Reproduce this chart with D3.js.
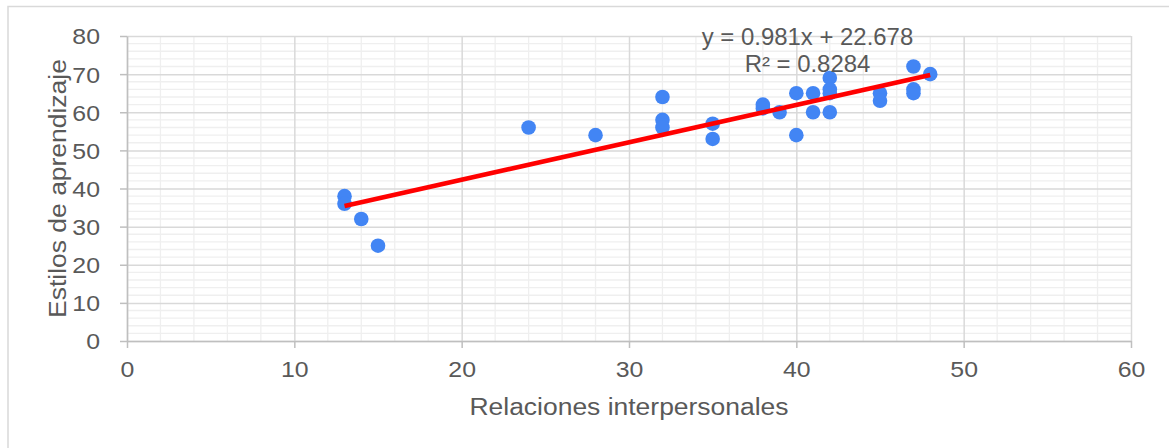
<!DOCTYPE html>
<html>
<head>
<meta charset="utf-8">
<script src="https://cdn.jsdelivr.net/npm/d3@7"></script>
<style>
  html, body { margin: 0; padding: 0; background: #fff; }
  svg { display: block; font-family: "Liberation Sans", Arial, sans-serif; }
</style>
</head>
<body>
<svg id="chart" width="1169" height="448"></svg>
<script>
// ---- data ----
const xValues = [13, 13, 14, 15, 24, 28, 32, 32, 32, 35, 35, 38, 38, 39, 40, 40, 41, 41, 42, 42, 42, 42, 45, 45, 47, 47, 47, 48];
const yValues = [38, 36, 32, 25, 56, 54, 64, 58, 56, 57, 53, 62, 61, 60, 65, 54, 65, 60, 69, 66, 65, 60, 65, 63, 72, 66, 65, 70];
const trendSlope = 0.981;
const trendIntercept = 22.678;
const equationLabels = ["y = 0.981x + 22.678", "R² = 0.8284"];
const xTicks = [0, 10, 20, 30, 40, 50, 60];
const yTicks = [0, 10, 20, 30, 40, 50, 60, 70, 80];
const xTitle = "Relaciones interpersonales";
const yTitle = "Estilos de aprendizaje";

// ---- layout ----
const svg = d3.select("#chart");
const plot = { left: 127, right: 1131, top: 36, bottom: 341 };
const textColor = "#595959";

const x = d3.scaleLinear().domain([0, 60]).range([plot.left, plot.right]);
const y = d3.scaleLinear().domain([0, 80]).range([plot.bottom, plot.top]);

function stretch(sel, k) {
  sel.each(function () {
    const w = this.getComputedTextLength();
    this.setAttribute("textLength", w * k);
    this.setAttribute("lengthAdjust", "spacingAndGlyphs");
  });
}

// outer border
svg.append("rect")
  .attr("x", 8).attr("y", 6.5)
  .attr("width", 1200).attr("height", 500)
  .attr("fill", "#fff")
  .attr("stroke", "#d9d9d9").attr("stroke-width", 1.5);

// minor gridlines
const xMinor = d3.range(0, 61, 2).filter(v => v % 10 !== 0);
const yMinor = d3.range(0, 81, 2).filter(v => v % 10 !== 0);
const grid = svg.append("g");
grid.selectAll("line.xm").data(xMinor).join("line")
  .attr("x1", d => x(d)).attr("x2", d => x(d))
  .attr("y1", plot.top).attr("y2", plot.bottom)
  .attr("stroke", "#efefef").attr("stroke-width", 1.3);
grid.selectAll("line.ym").data(yMinor).join("line")
  .attr("x1", plot.left).attr("x2", plot.right)
  .attr("y1", d => y(d)).attr("y2", d => y(d))
  .attr("stroke", "#efefef").attr("stroke-width", 1.3);

// major gridlines via axes
svg.append("g")
  .attr("transform", `translate(0,${plot.bottom})`)
  .call(d3.axisBottom(x).tickValues(xTicks).tickSize(-(plot.bottom - plot.top)).tickFormat(""))
  .call(g => g.select(".domain").remove())
  .call(g => g.selectAll("line").attr("stroke", "#d9d9d9").attr("stroke-width", 1.5));
svg.append("g")
  .attr("transform", `translate(${plot.left},0)`)
  .call(d3.axisLeft(y).tickValues(yTicks).tickSize(-(plot.right - plot.left)).tickFormat(""))
  .call(g => g.select(".domain").remove())
  .call(g => g.selectAll("line").attr("stroke", "#d9d9d9").attr("stroke-width", 1.5));

// axes with ticks and labels
const xAxis = svg.append("g")
  .attr("transform", `translate(0,${plot.bottom})`)
  .call(d3.axisBottom(x).tickValues(xTicks).tickSize(7).tickSizeOuter(0).tickPadding(13));
xAxis.select(".domain").attr("stroke", "#bfbfbf").attr("stroke-width", 1.5);
xAxis.selectAll(".tick line").attr("stroke", "#bfbfbf").attr("stroke-width", 1.5);
xAxis.selectAll(".tick text")
  .attr("fill", textColor).attr("font-size", 22)
  .attr("font-family", "Liberation Sans, Arial, sans-serif")
  .attr("dy", "0.71em");
stretch(xAxis.selectAll(".tick text"), 1.13);

const yAxis = svg.append("g")
  .attr("transform", `translate(${plot.left},0)`)
  .call(d3.axisLeft(y).tickValues(yTicks).tickSize(7).tickSizeOuter(0).tickPadding(20));
yAxis.select(".domain").attr("stroke", "#bfbfbf").attr("stroke-width", 1.5);
yAxis.selectAll(".tick line").attr("stroke", "#bfbfbf").attr("stroke-width", 1.5);
yAxis.selectAll(".tick text")
  .attr("fill", textColor).attr("font-size", 22)
  .attr("font-family", "Liberation Sans, Arial, sans-serif")
  .attr("dy", "0.36em");
stretch(yAxis.selectAll(".tick text"), 1.13);

// points
svg.append("g").selectAll("circle")
  .data(xValues.map((v, i) => [v, yValues[i]]))
  .join("circle")
  .attr("cx", d => x(d[0])).attr("cy", d => y(d[1]))
  .attr("r", 7.3)
  .attr("fill", "#4285f4");

// trendline
const xMin = d3.min(xValues), xMax = d3.max(xValues);
svg.append("line")
  .attr("x1", x(xMin)).attr("y1", y(trendSlope * xMin + trendIntercept))
  .attr("x2", x(xMax)).attr("y2", y(trendSlope * xMax + trendIntercept))
  .attr("stroke", "#ff0000").attr("stroke-width", 4.6);

// equation
const eq = svg.append("g").attr("fill", textColor).attr("font-size", 23).attr("text-anchor", "middle");
eq.selectAll("text").data(equationLabels).join("text")
  .attr("x", 807.5).attr("y", (d, i) => 45 + i * 26.7)
  .text(d => d);
stretch(eq.selectAll("text"), 1.04);

// axis titles
const xt = svg.append("text")
  .attr("x", (plot.left + plot.right) / 2).attr("y", 415)
  .attr("text-anchor", "middle").attr("fill", textColor).attr("font-size", 23)
  .text(xTitle);
stretch(xt, 1.15);

const yt = svg.append("text")
  .attr("transform", `translate(66,${(plot.top + plot.bottom) / 2}) rotate(-90)`)
  .attr("text-anchor", "middle").attr("fill", textColor).attr("font-size", 23)
  .text(yTitle);
stretch(yt, 1.15);
</script>
</body>
</html>
